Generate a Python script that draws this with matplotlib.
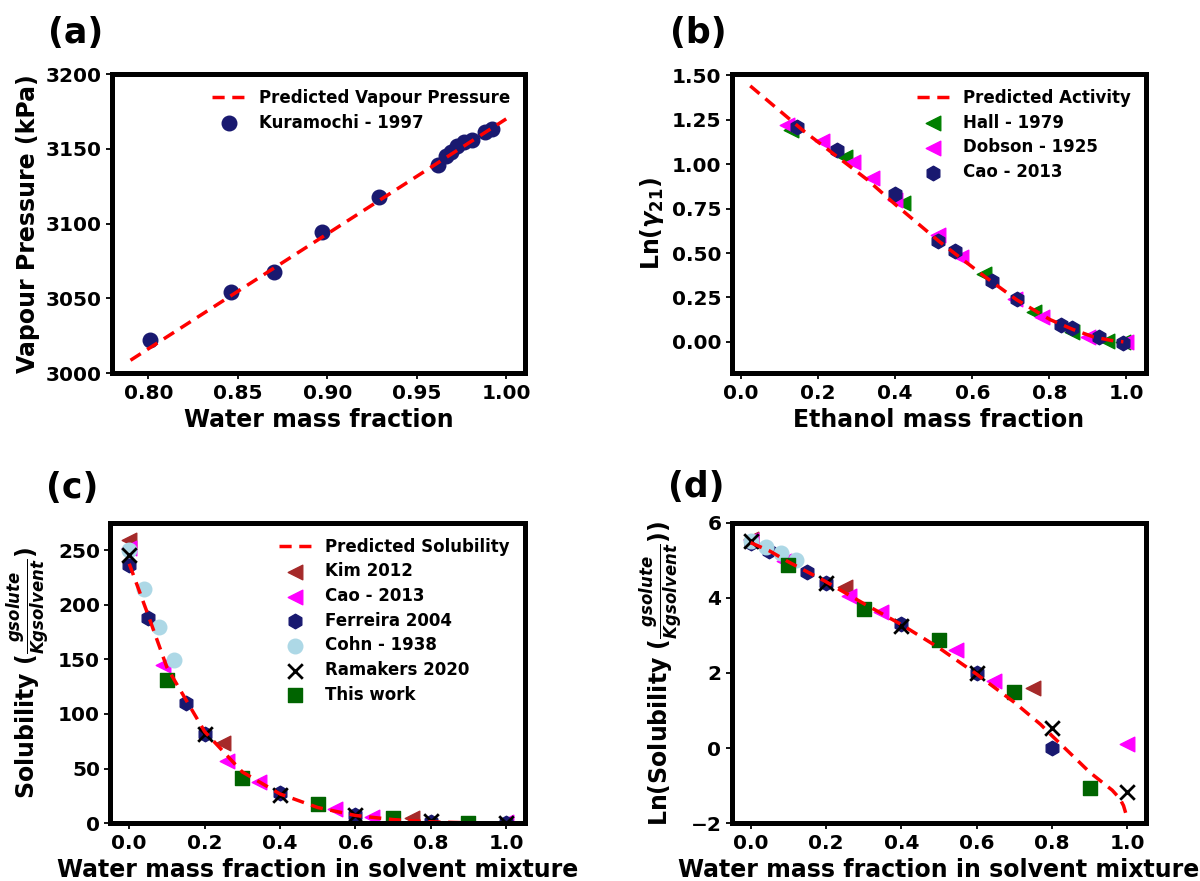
import numpy as np
import matplotlib
matplotlib.use("Agg")
import matplotlib.pyplot as plt

plt.rcParams["font.family"] = ["DejaVu Sans"]
plt.rcParams["font.weight"] = "bold"
plt.rcParams["axes.labelweight"] = "bold"

# ---------------- (a) vapour pressure ----------------
vp_line_x = [0.79, 1.00]
vp_line_y = [3008.7, 3170.0]
kuramochi_x = [0.801, 0.846, 0.870, 0.897, 0.929, 0.962, 0.9665, 0.969, 0.9727,
               0.9765, 0.9807, 0.988, 0.9923]
kuramochi_y = [3022, 3054.5, 3068, 3094.5, 3117.5, 3139.5, 3145, 3148, 3152,
               3154.5, 3156, 3161, 3163]

# ---------------- (b) activity coefficient ----------------
act_line_x = [0.024, 0.162, 0.327, 0.40, 0.512, 0.629, 0.715, 0.802, 0.862,
              0.914, 0.96, 0.992]
act_line_y = [1.441, 1.188, 0.914, 0.774, 0.569, 0.373, 0.237, 0.125, 0.069,
              0.028, 0.008, 0.0]
hall_x = [0.13, 0.27, 0.42, 0.63, 0.76, 0.86, 0.95, 0.99]
hall_y = [1.19, 1.04, 0.78, 0.38, 0.17, 0.055, 0.005, 0.0]
dobson_x = [0.12, 0.21, 0.29, 0.34, 0.40, 0.51, 0.57, 0.71, 0.78, 0.90, 1.0]
dobson_y = [1.22, 1.13, 1.01, 0.92, 0.80, 0.60, 0.48, 0.24, 0.14, 0.025, 0.0]
cao_b_x = [0.145, 0.25, 0.40, 0.51, 0.555, 0.65, 0.715, 0.83, 0.86, 0.93, 0.99]
cao_b_y = [1.21, 1.08, 0.83, 0.57, 0.51, 0.34, 0.24, 0.095, 0.08, 0.03, -0.005]

# ---------------- (c)/(d) solubility ----------------
# predicted solubility, given as ln(g solute / kg solvent)
sol_line_x = [0.0, 0.05, 0.1, 0.2, 0.3, 0.4, 0.5, 0.6, 0.7, 0.77, 0.8, 0.86,
              0.9, 0.93, 0.96, 0.98, 0.99, 1.0]
sol_line_ln = [5.47, 5.25, 4.96, 4.43, 3.85, 3.29, 2.67, 1.97, 1.22, 0.63, 0.33,
               -0.25, -0.64, -0.88, -1.12, -1.34, -1.53, -1.87]
kim_x = [0.0, 0.25, 0.75]
kim_y = [259, 73, 5.0]
cao_x = [0.0, 0.09, 0.26, 0.345, 0.545, 0.645, 1.0]
cao_y = [252, 145, 57, 37.5, 13.5, 6.0, 1.13]
ferreira_x = [0.0, 0.05, 0.15, 0.2, 0.4, 0.6, 0.8, 1.0]
ferreira_y = [236, 188, 110, 82, 27.4, 7.4, 1.0, 0.1]
cohn_x = [0.0, 0.04, 0.08, 0.12]
cohn_y = [250, 214, 180, 149]
ramakers_x = [0.0, 0.2, 0.4, 0.6, 0.8, 1.0]
ramakers_y = [245, 81.5, 25.8, 7.4, 1.70, 0.31]
thiswork_x = [0.1, 0.3, 0.5, 0.7, 0.9]
thiswork_y = [131, 41, 18, 4.4, 0.35]

NAVY = "#191970"
LINE_KW = dict(color="red", ls="--", lw=2.5, dashes=(3.5, 2.2))
SPINE_W = 3.6
TICK_FS = 14.5
LABEL_FS = 17
LEG_FS = 12
MS = 110

fig = plt.figure(figsize=(12, 8.81), dpi=100)
ax_a = fig.add_axes([0.0931, 0.5763, 0.3444, 0.3397])
ax_b = fig.add_axes([0.6098, 0.5763, 0.3453, 0.3397])
ax_c = fig.add_axes([0.0920, 0.0655, 0.3455, 0.3412])
ax_d = fig.add_axes([0.6098, 0.0655, 0.3453, 0.3412])


def style(ax):
    for s in ax.spines.values():
        s.set_linewidth(SPINE_W)
    ax.tick_params(width=1.3, length=4, labelsize=TICK_FS)
    for lab in ax.get_xticklabels() + ax.get_yticklabels():
        lab.set_fontweight("bold")


def legend(ax):
    return ax.legend(loc="upper right", frameon=False, labelspacing=0.4,
                     prop={"weight": "bold", "size": LEG_FS})


# (a)
ax_a.plot(vp_line_x, vp_line_y, label="Predicted Vapour Pressure", **LINE_KW)
ax_a.scatter(kuramochi_x, kuramochi_y, s=MS, color=NAVY, marker="o",
             label="Kuramochi - 1997")
ax_a.set_xlim(0.7795, 1.0105)
ax_a.set_ylim(3000, 3200)
ax_a.set_xticks(np.arange(0.80, 1.001, 0.05))
ax_a.set_yticks(np.arange(3000, 3201, 50))
ax_a.set_xlabel("Water mass fraction", fontsize=LABEL_FS)
ax_a.set_ylabel("Vapour Pressure (kPa)", fontsize=LABEL_FS)
legend(ax_a)
style(ax_a)

# (b)
ax_b.plot(act_line_x, act_line_y, label="Predicted Activity", **LINE_KW)
ax_b.scatter(hall_x, hall_y, s=MS, color="green", marker="<", label="Hall - 1979")
ax_b.scatter(dobson_x, dobson_y, s=MS, color="magenta", marker="<",
             label="Dobson - 1925")
ax_b.scatter(cao_b_x, cao_b_y, s=MS, color=NAVY, marker="h", label="Cao - 2013")
ax_b.set_xlim(-0.024, 1.051)
ax_b.set_ylim(-0.177, 1.508)
ax_b.set_xticks(np.arange(0.0, 1.01, 0.2))
ax_b.set_yticks(np.arange(0.0, 1.51, 0.25))
ax_b.set_xlabel("Ethanol mass fraction", fontsize=LABEL_FS)
ax_b.set_ylabel(r"Ln($\gamma_{21}$)", fontsize=LABEL_FS)
legend(ax_b)
style(ax_b)


def solubility_panel(ax, transform):
    ax.plot(sol_line_x, transform(np.exp(sol_line_ln)), label="Predicted Solubility",
            **LINE_KW)
    ax.scatter(kim_x, transform(kim_y), s=MS, color="brown", marker="<",
               label="Kim 2012")
    ax.scatter(cao_x, transform(cao_y), s=MS, color="magenta", marker="<",
               label="Cao - 2013")
    ax.scatter(ferreira_x, transform(ferreira_y), s=MS, color=NAVY, marker="h",
               label="Ferreira 2004")
    ax.scatter(cohn_x, transform(cohn_y), s=MS, color="lightblue", marker="o",
               label="Cohn - 1938")
    ax.scatter(ramakers_x, transform(ramakers_y), s=MS, color="black", marker="x",
               linewidths=2, label="Ramakers 2020")
    ax.scatter(thiswork_x, transform(thiswork_y), s=MS, color="darkgreen",
               marker="s", label="This work")
    ax.set_xlim(-0.05, 1.05)
    ax.set_xticks(np.arange(0.0, 1.01, 0.2))
    ax.set_xlabel("Water mass fraction in solvent mixture", fontsize=LABEL_FS)


# (c)
solubility_panel(ax_c, lambda v: np.asarray(v, dtype=float))
ax_c.set_ylim(0, 275)
ax_c.set_yticks(np.arange(0, 251, 50))
ax_c.set_ylabel(r"Solubility ($\frac{gsolute}{Kgsolvent}$)", fontsize=LABEL_FS)
legend(ax_c)
style(ax_c)

# (d)
solubility_panel(ax_d, lambda v: np.log(np.asarray(v, dtype=float)))
ax_d.set_ylim(-2, 6)
ax_d.set_yticks(np.arange(-2, 6.1, 2))
ax_d.set_ylabel(r"Ln(Solubility ($\frac{gsolute}{Kgsolvent}$))", fontsize=LABEL_FS)
style(ax_d)

# panel letters
for txt, x, y in [("(a)", 76, 33), ("(b)", 698, 33), ("(c)", 72, 488), ("(d)", 696, 487)]:
    fig.text(x / 1200, 1 - y / 881, txt, fontsize=25, fontweight="bold",
             ha="center", va="center")

fig.savefig("out.png", dpi=100)
